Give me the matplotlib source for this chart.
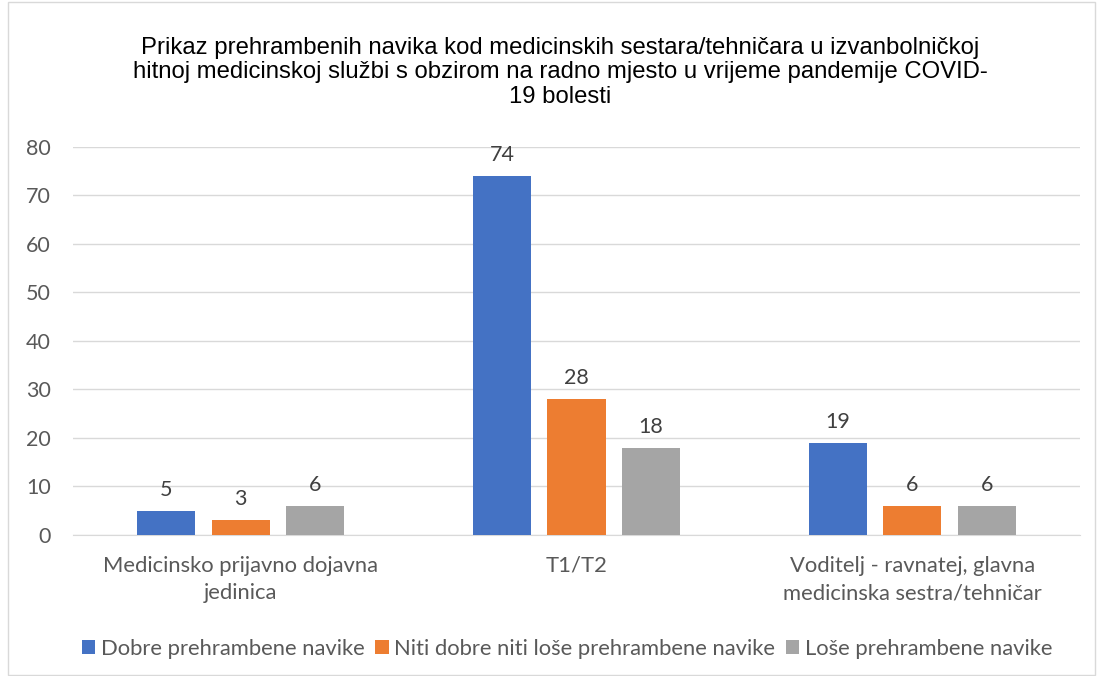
import numpy as np
import matplotlib.pyplot as plt
from matplotlib.patches import Rectangle

categories = ['Medicinsko prijavno dojavna\njedinica', 'T1/T2',
              'Voditelj - ravnatej, glavna\nmedicinska sestra/tehničar']
series_names = ['Dobre prehrambene navike',
                'Niti dobre niti loše prehrambene navike',
                'Loše prehrambene navike']
dobre = [5, 74, 19]
niti = [3, 28, 6]
lose = [6, 18, 6]
colors = ['#4472C4', '#ED7D31', '#A5A5A5']
str_title = ('Prikaz prehrambenih navika kod medicinskih sestara/tehničara u izvanbolničkoj\n'
             'hitnoj medicinskoj službi s obzirom na radno mjesto u vrijeme pandemije COVID-\n'
             '19 bolesti')

txt = '#595959'
lab_font = ['Lato', 'DejaVu Sans']

fig = plt.figure(figsize=(10.97, 6.76), dpi=100)
ax = fig.add_axes([0.0665, 0.2086, 0.918, 0.574])

# chart border
fig.patches.append(Rectangle((8 / 1097, 0.002), 1087 / 1097, 0.995, transform=fig.transFigure,
                             fill=False, edgecolor='#D9D9D9', linewidth=1))

index = np.arange(len(categories))
bar_width = 0.173
offset = 0.222
for i, (vals, name) in enumerate(zip([dobre, niti, lose], series_names)):
    rects = ax.bar(index + (i - 1) * offset, vals, bar_width, color=colors[i], label=name, zorder=3)
    for r, v in zip(rects, vals):
        ax.annotate(str(v), (r.get_x() + r.get_width() / 2, v), xytext=(0, 8),
                    textcoords='offset points', ha='center', va='bottom',
                    fontsize=15.5, color='#404040', family=lab_font)

ax.set_xlim(-0.5, 2.5)
ax.set_ylim(0, 80)
ax.set_yticks(range(0, 81, 10))
ax.yaxis.grid(True, color='#D9D9D9', linewidth=1, zorder=0)
ax.set_xticks(index)
ax.set_xticklabels(categories, fontsize=15.8, color=txt, family=lab_font, linespacing=1.45)
ax.tick_params(axis='y', labelsize=15.5, labelcolor=txt, length=0, pad=16)
ax.tick_params(axis='x', length=0, pad=15)
for lbl in ax.get_yticklabels():
    lbl.set_family(lab_font)
for s in ['top', 'right', 'left']:
    ax.spines[s].set_visible(False)
ax.spines['bottom'].set_color('#D9D9D9')

fig.text(0.511, 0.946, str_title, ha='center', va='top', fontsize=17.2, color='#000000',
         family=['Liberation Sans', 'DejaVu Sans'], linespacing=1.15)

fig.legend(loc='center', bbox_to_anchor=(0.517, 0.04), ncol=3, frameon=False,
           prop={'family': lab_font, 'size': 15.8}, labelcolor=txt,
           handlelength=0.6, handleheight=0.6, handletextpad=0.25, columnspacing=0.5)

fig.savefig('out.png', dpi=100)
